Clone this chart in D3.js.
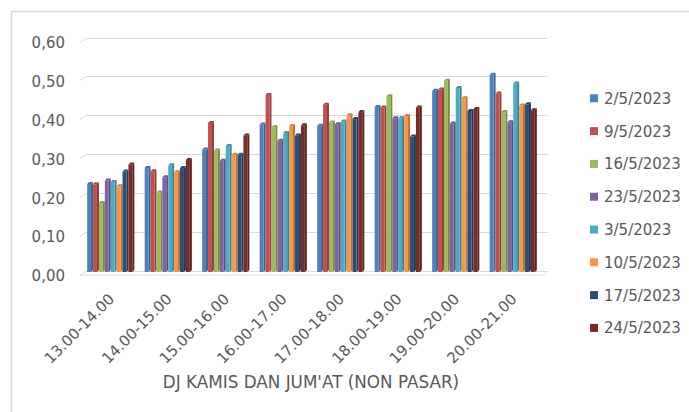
<!DOCTYPE html>
<html>
<head>
<meta charset="utf-8">
<script src="https://cdn.jsdelivr.net/npm/d3@7"></script>
<style>
  html, body { margin: 0; padding: 0; background: #fff; }
  svg { display: block; }
  text { font-family: "DejaVu Sans", sans-serif; fill: #595959; }
</style>
</head>
<body>
<div id="chart"></div>
<script>
const categories = ["13.00-14.00", "14.00-15.00", "15.00-16.00", "16.00-17.00",
                    "17.00-18.00", "18.00-19.00", "19.00-20.00", "20.00-21.00"];
const seriesNames = ["2/5/2023", "9/5/2023", "16/5/2023", "23/5/2023",
                     "3/5/2023", "10/5/2023", "17/5/2023", "24/5/2023"];
const s_2_5  = [0.228, 0.269, 0.317, 0.381, 0.378, 0.426, 0.468, 0.509];
const s_9_5  = [0.227, 0.261, 0.385, 0.457, 0.432, 0.425, 0.471, 0.461];
const s_16_5 = [0.179, 0.206, 0.314, 0.374, 0.386, 0.454, 0.494, 0.413];
const s_23_5 = [0.237, 0.245, 0.288, 0.339, 0.382, 0.397, 0.384, 0.387];
const s_3_5  = [0.233, 0.276, 0.326, 0.359, 0.389, 0.397, 0.475, 0.487];
const s_10_5 = [0.222, 0.258, 0.303, 0.377, 0.405, 0.403, 0.449, 0.430];
const s_17_5 = [0.260, 0.269, 0.303, 0.353, 0.395, 0.350, 0.416, 0.433];
const s_24_5 = [0.278, 0.290, 0.353, 0.379, 0.413, 0.425, 0.421, 0.418];
const seriesValues = [s_2_5, s_9_5, s_16_5, s_23_5, s_3_5, s_10_5, s_17_5, s_24_5];
const yTicks = [0, 0.1, 0.2, 0.3, 0.4, 0.5, 0.6];
const colors = ["#4F81BD", "#C0504D", "#9BBB59", "#8064A2",
                "#4BACC6", "#F79646", "#2C4D75", "#772C2A"];
const axisTitle = "DJ KAMIS DAN JUM'AT (NON PASAR)";

const W = 689, H = 412;
const svg = d3.select("#chart").append("svg").attr("width", W).attr("height", H);

// chart frame
svg.append("rect").attr("x", 11.5).attr("y", 11.5).attr("width", W + 20).attr("height", H + 20)
  .attr("fill", "none").attr("stroke", "#D9D9D9").attr("stroke-width", 1.5);

const y = d3.scaleLinear().domain([0, 0.6]).range([270.5, 37.5]);
const x = d3.scaleBand().domain(categories).range([82, 542]).paddingInner(0.18).paddingOuter(0.09);
const xs = d3.scaleBand().domain(d3.range(seriesNames.length)).range([0, x.bandwidth()]);

const dep = 4; // 3D offset for wall

// gridlines with 3D diagonal on the left
const grid = svg.append("g");
yTicks.forEach(t => {
  const gy = Math.round(y(t)) + 0.5;
  grid.append("path")
    .attr("d", `M80,${gy + dep} L${80 + 6},${gy} L548,${gy}`)
    .attr("fill", "none").attr("stroke", "#D9D9D9").attr("stroke-width", 1);
});
// floor front edge
svg.append("path").attr("d", `M80,${y(0) + dep + 0.5} L544,${y(0) + dep + 0.5} L548,${y(0) + 0.5}`)
  .attr("fill", "none").attr("stroke", "#D9D9D9");

// y labels
const yAxis = d3.axisLeft(y).tickValues(yTicks)
  .tickFormat(d => d3.format(".2f")(d).replace(".", ",")).tickSize(0).tickPadding(0);
const yg = svg.append("g").attr("transform", `translate(65, ${dep + 1.5})`).call(yAxis);
yg.select(".domain").remove();
yg.selectAll("text").attr("font-size", 15).attr("fill", "#595959")
  .attr("font-family", "DejaVu Sans, sans-serif");

// bars
const d = 2;
const bottom = y(0) + 1.5;
categories.forEach((c, ci) => {
  seriesValues.forEach((vals, si) => {
    const v = vals[ci];
    const x0 = x(c) + xs(si);
    const w = xs.bandwidth();
    const top = y(v);
    const col = d3.color(colors[si]);
    // side
    svg.append("path")
      .attr("d", `M${x0 + w - d},${top + d} L${x0 + w},${top} L${x0 + w},${bottom - d} L${x0 + w - d},${bottom} Z`)
      .attr("fill", col.darker(0.8));
    // top cap
    svg.append("path")
      .attr("d", `M${x0},${top + d} L${x0 + d},${top} L${x0 + w},${top} L${x0 + w - d},${top + d} Z`)
      .attr("fill", col.darker(0.5));
    // front
    svg.append("rect")
      .attr("x", x0).attr("y", top + d)
      .attr("width", w - d).attr("height", bottom - top - d)
      .attr("fill", colors[si]);
  });
});

// x labels
const xg = svg.append("g");
categories.forEach(c => {
  const cx = x(c) + x.bandwidth() / 2 + 4.5;
  xg.append("text")
    .attr("transform", `translate(${cx}, 300) rotate(-45)`)
    .attr("text-anchor", "end")
    .attr("font-size", 15)
    .text(c);
});

// axis title
svg.append("text").attr("x", 311).attr("y", 388).attr("text-anchor", "middle")
  .attr("font-size", 16.8).text(axisTitle);

// legend
const lg = svg.append("g");
seriesNames.forEach((n, i) => {
  const cy = 98.3 + i * 32.8;
  lg.append("rect").attr("x", 590).attr("y", cy - 4).attr("width", 8).attr("height", 8)
    .attr("fill", colors[i]);
  lg.append("text").attr("x", 604).attr("y", cy).attr("dy", "0.36em")
    .attr("font-size", 15).text(n);
});
</script>
</body>
</html>
